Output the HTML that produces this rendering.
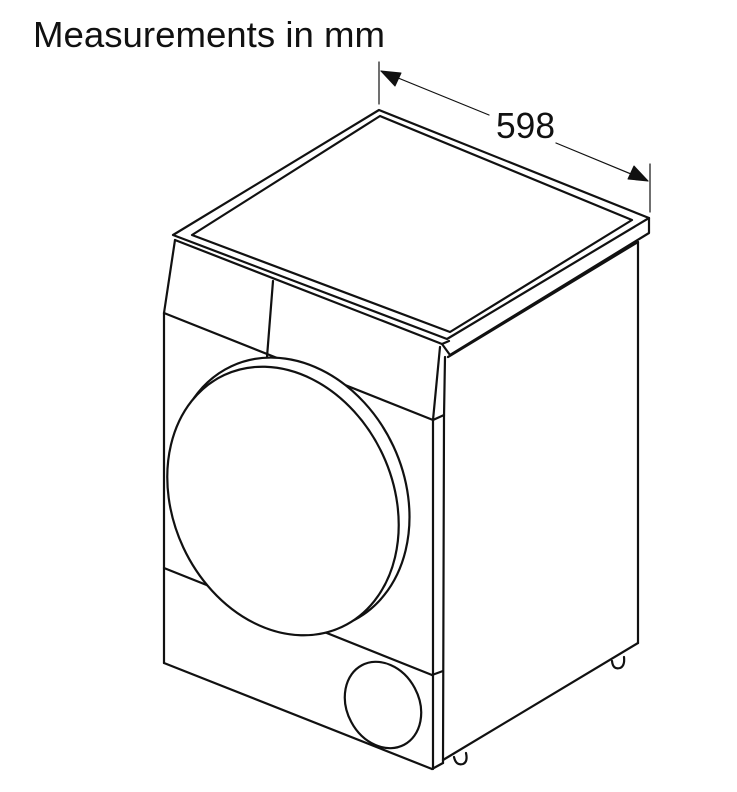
<!DOCTYPE html>
<html><head><meta charset="utf-8"><style>html,body{margin:0;padding:0;background:#fff}svg{display:block}</style></head>
<body>
<svg width="737" height="792" viewBox="0 0 737 792" xmlns="http://www.w3.org/2000/svg">
<rect width="737" height="792" fill="#fff"/>
<text x="33" y="47" font-family="Liberation Sans, sans-serif" font-size="36" fill="#111" textLength="352" lengthAdjust="spacingAndGlyphs">Measurements in mm</text>
<text x="496" y="138" font-family="Liberation Sans, sans-serif" font-size="36" fill="#111" textLength="59" lengthAdjust="spacingAndGlyphs">598</text>
<g stroke="#111" fill="none" stroke-linecap="round" stroke-linejoin="round">
 <g stroke-width="1.2">
  <line x1="379" y1="62" x2="379" y2="104"/>
  <line x1="650" y1="164" x2="650" y2="212"/>
  <line x1="381" y1="71" x2="489" y2="115"/>
  <line x1="556" y1="143" x2="648" y2="181"/>
 </g>
 <polygon points="381,71 401,73 395,86" fill="#111" stroke-width="1"/>
 <polygon points="648,181 628,179 634,166" fill="#111" stroke-width="1"/>
 <g stroke-width="2.2">
  <polygon points="379,110 173,235 447,339 649,218"/>
  <polygon points="380,116 192,235 450,332 632,220"/>
  <polyline points="175,240 442,344 449,341"/>
  <polyline points="649,218 649,233 450,355 442,344"/>
  <line x1="448" y1="357" x2="638" y2="242"/>
  <line x1="638" y1="242" x2="638" y2="643"/>
  <line x1="638" y1="643" x2="443" y2="760"/>
  <line x1="175" y1="240" x2="164" y2="313"/>
  <line x1="164" y1="313" x2="164" y2="663"/>
  <line x1="164" y1="663" x2="432" y2="769"/>
  <line x1="432" y1="769" x2="443" y2="763"/>
  <polyline points="440,347 433,420 433,769"/>
  <polyline points="445,357 444,417 443,763"/>
  <line x1="433" y1="420" x2="444" y2="415"/>
  <line x1="164" y1="313" x2="433" y2="420"/>
  <line x1="273" y1="281" x2="267" y2="357"/>
  <line x1="164" y1="568" x2="432" y2="675"/>
  <line x1="432" y1="675" x2="443" y2="671"/>
  <ellipse cx="291" cy="494" rx="113" ry="141" transform="rotate(-25 291 494)" fill="#fff"/>
  <ellipse cx="283" cy="501" rx="110" ry="139" transform="rotate(-25 283 501)" fill="#fff"/>
  <ellipse cx="383" cy="705" rx="36" ry="45" transform="rotate(-28 383 705)"/>
  <path d="M454 757 Q456 766 463 764 Q468 762 466 753"/>
  <path d="M612 661 Q613 670 620 668 Q625 666 624 657"/>
 </g>
</g>
</svg>
</body></html>
